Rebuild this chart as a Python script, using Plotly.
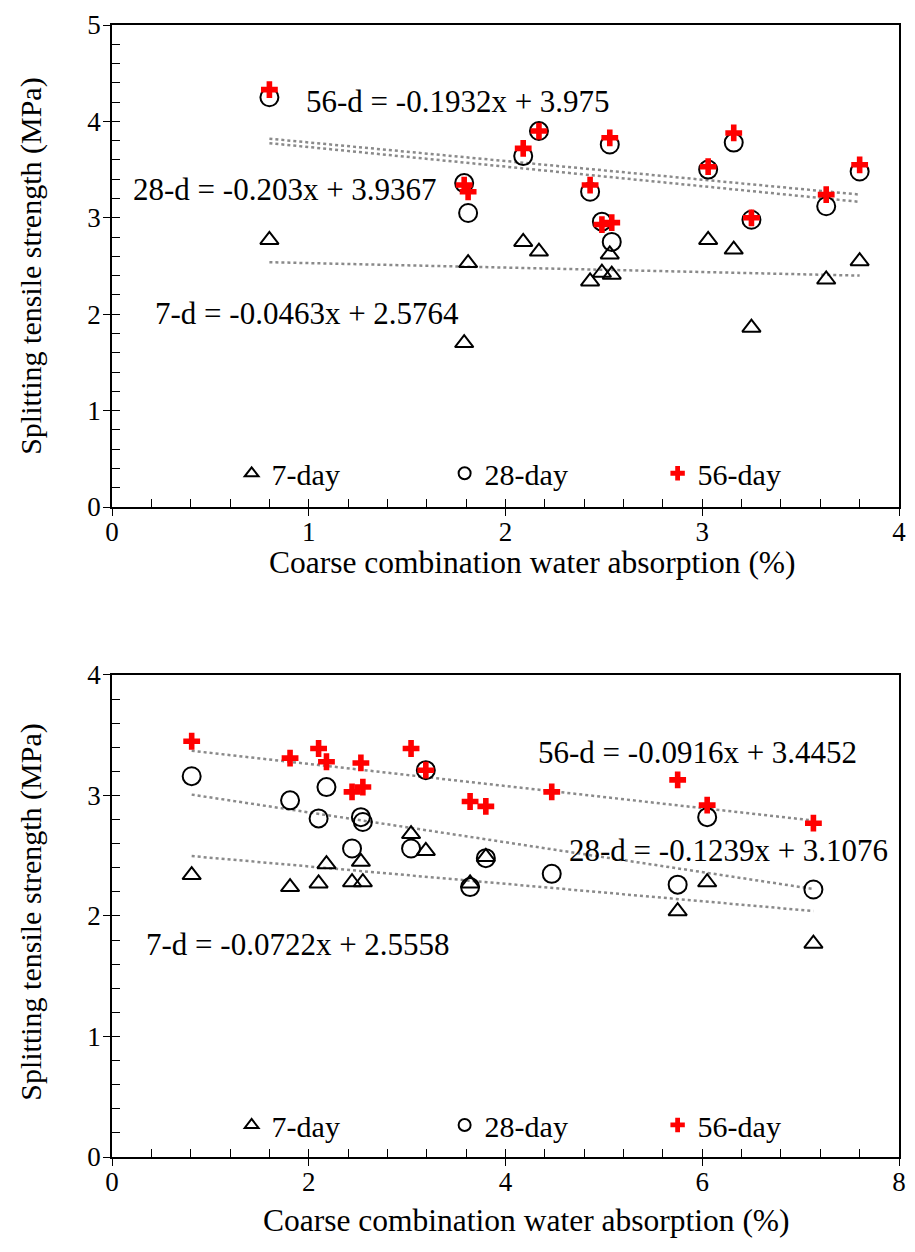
import plotly.graph_objects as go

# ---------------- data: top panel ----------------
top_x = [0.80, 1.79, 1.81, 2.09, 2.17, 2.43, 2.49, 2.53, 2.54, 3.03, 3.16, 3.25, 3.63, 3.80]
top_7d = [2.77, 1.70, 2.53, 2.75, 2.65, 2.34, 2.43, 2.62, 2.41, 2.77, 2.67, 1.86, 2.36, 2.55]
top_28d = [4.25, 3.36, 3.05, 3.64, 3.90, 3.27, 2.96, 3.76, 2.75, 3.50, 3.78, 2.98, 3.12, 3.48]
top_56d = [4.33, 3.34, 3.27, 3.72, 3.90, 3.34, 2.93, 3.83, 2.95, 3.53, 3.88, 3.00, 3.24, 3.55]
top_slopes = [-0.0463, -0.203, -0.1932]
top_intercepts = [2.5764, 3.9367, 3.975]
top_eq_labels = ["7-d = -0.0463x + 2.5764", "28-d = -0.203x + 3.9367", "56-d = -0.1932x + 3.975"]

# ---------------- data: bottom panel ----------------
bot_x = [0.81, 1.81, 2.10, 2.18, 2.44, 2.53, 2.55, 3.04, 3.19, 3.64, 3.80, 4.47, 5.75, 6.05, 7.13]
bot_7d = [2.34, 2.24, 2.27, 2.43, 2.28, 2.45, 2.28, 2.68, 2.54, 2.27, 2.49, None, 2.04, 2.28, 1.77]
bot_28d = [3.16, 2.96, 2.81, 3.07, 2.56, 2.82, 2.78, 2.56, 3.21, 2.24, 2.48, 2.35, 2.26, 2.82, 2.22]
bot_56d = [3.45, 3.31, 3.39, 3.28, 3.03, 3.27, 3.07, 3.39, 3.21, 2.95, 2.91, 3.03, 3.13, 2.92, 2.77]
bot_slopes = [-0.0722, -0.1239, -0.0916]
bot_intercepts = [2.5558, 3.1076, 3.4452]
bot_eq_labels = ["7-d = -0.0722x + 2.5558", "28-d = -0.1239x + 3.1076", "56-d = -0.0916x + 3.4452"]

series_names = ["7-day", "28-day", "56-day"]

FONT = "Liberation Serif, Times New Roman, serif"
FS = 27       # tick labels
HFS = 30      # legend
TFS = 31.5    # axis titles
EQ_FS = 31

fig = go.Figure()

sym_styles = [
    dict(symbol="triangle-up-open", size=16, color="black", line=dict(color="black", width=2)),
    dict(symbol="circle-open", size=18, color="black", line=dict(color="black", width=2)),
    dict(symbol="cross", size=14, color="red", line=dict(color="red", width=0)),
]


def add_panel(xs, series, slopes, intercepts, xa, ya, legend_name):
    for k in range(3):
        xv = [x for x, y in zip(xs, series[k]) if y is not None]
        x0, x1 = min(xv), max(xv)
        fig.add_trace(go.Scatter(
            x=[x0, x1], y=[slopes[k] * x0 + intercepts[k], slopes[k] * x1 + intercepts[k]],
            mode="lines", line=dict(color="#8a8a8a", width=2.5, dash="dot"),
            showlegend=False, hoverinfo="skip", xaxis=xa, yaxis=ya))
    for k in range(3):
        fig.add_trace(go.Scatter(
            x=xs, y=series[k], mode="markers", name=series_names[k],
            marker=sym_styles[k], xaxis=xa, yaxis=ya, legend=legend_name))


add_panel(top_x, [top_7d, top_28d, top_56d], top_slopes, top_intercepts, "x", "y", "legend")
add_panel(bot_x, [bot_7d, bot_28d, bot_56d], bot_slopes, bot_intercepts, "x2", "y2", "legend2")

TOP_DOM = [0.5742, 1.0]
BOT_DOM = [0.0, 0.4258]


def main_axis(rng, dtick, minor_dtick, anchor, domain=None, standoff=2):
    d = dict(range=rng, dtick=dtick, tick0=0, ticks="inside", ticklen=8, tickwidth=1.3,
             tickcolor="black", showline=True, linecolor="black", linewidth=1.6, mirror=True,
             showgrid=False, zeroline=False, anchor=anchor,
             tickfont=dict(family=FONT, size=FS, color="black"),
             minor=dict(dtick=minor_dtick, tick0=0, ticks="inside", ticklen=8,
                        tickwidth=1.1, tickcolor="black", showgrid=False),
             ticklabelstandoff=standoff)
    if domain is not None:
        d["domain"] = domain
    return d


def overlay_axis(overlay, rng, dtick, anchor, side):
    return dict(overlaying=overlay, matches=overlay, range=rng, dtick=dtick, tick0=0,
                ticks="outside", ticklen=8, tickwidth=1.3, tickcolor="black",
                showticklabels=False, showline=False, showgrid=False, zeroline=False,
                anchor=anchor, side=side)


legend_common = dict(orientation="h", xanchor="left", yanchor="middle",
                     bgcolor="rgba(0,0,0,0)", font=dict(family=FONT, size=HFS),
                     itemsizing="constant", entrywidth=168, entrywidthmode="pixels")

layout = dict(
    width=915, height=1252,
    margin=dict(l=112, r=9, t=25, b=95),
    paper_bgcolor="white", plot_bgcolor="white",
    font=dict(family=FONT, size=FS, color="black"),
    xaxis=main_axis([0, 4], 1, 0.2, "y", standoff=0),
    yaxis=main_axis([0, 5], 1, 0.2, "x", TOP_DOM, standoff=4),
    xaxis2=main_axis([0, 8], 2, 0.4, "y2", standoff=0),
    yaxis2=main_axis([0, 4], 1, 0.2, "x2", BOT_DOM, standoff=4),
    xaxis3=overlay_axis("x", [0, 4], 1, "y", "bottom"),
    yaxis3=overlay_axis("y", [0, 5], 1, "x", "left"),
    xaxis4=overlay_axis("x2", [0, 8], 2, "y2", "bottom"),
    yaxis4=overlay_axis("y2", [0, 4], 1, "x2", "left"),
    showlegend=True,
    legend=dict(x=0.152, y=0.604, **legend_common),
    legend2=dict(x=0.152, y=0.0283, **legend_common),
)
fig.update_layout(**layout)

fig.add_trace(go.Scatter(x=[], y=[], xaxis="x3", yaxis="y3", showlegend=False))
fig.add_trace(go.Scatter(x=[], y=[], xaxis="x4", yaxis="y4", showlegend=False))

top_eq_pos = [(0.99, 2.01), (0.88, 3.29), (1.76, 4.21)]
bot_eq_pos = [(1.89, 1.76), (6.27, 2.54), (5.95, 3.36)]
for lbl, (ex, ey) in zip(top_eq_labels, top_eq_pos):
    fig.add_annotation(x=ex, y=ey, xref="x", yref="y", text=lbl, showarrow=False,
                       xanchor="center", yanchor="middle",
                       font=dict(family=FONT, size=EQ_FS, color="black"))
for lbl, (ex, ey) in zip(bot_eq_labels, bot_eq_pos):
    fig.add_annotation(x=ex, y=ey, xref="x2", yref="y2", text=lbl, showarrow=False,
                       xanchor="center", yanchor="middle",
                       font=dict(family=FONT, size=EQ_FS, color="black"))

y_title = "Splitting tensile strength (MPa)"
x_title = "Coarse combination water absorption (%)"
for yc in [0.787, 0.2164]:
    fig.add_annotation(x=-0.1033, y=yc, xref="paper", yref="paper", text=y_title,
                       textangle=-90, showarrow=False, xanchor="center", yanchor="middle",
                       font=dict(family=FONT, size=30, color="black"))
for yc, xc in [((1157 - 562) / 1132, 0.534), ((1157 - 1220) / 1132, 0.5264)]:
    fig.add_annotation(x=xc, y=yc, xref="paper", yref="paper", text=x_title,
                       showarrow=False, xanchor="center", yanchor="middle",
                       font=dict(family=FONT, size=TFS, color="black"))

fig.write_html("out.html", post_script="document.body.style.margin='0';",
               config={"displayModeBar": False})
